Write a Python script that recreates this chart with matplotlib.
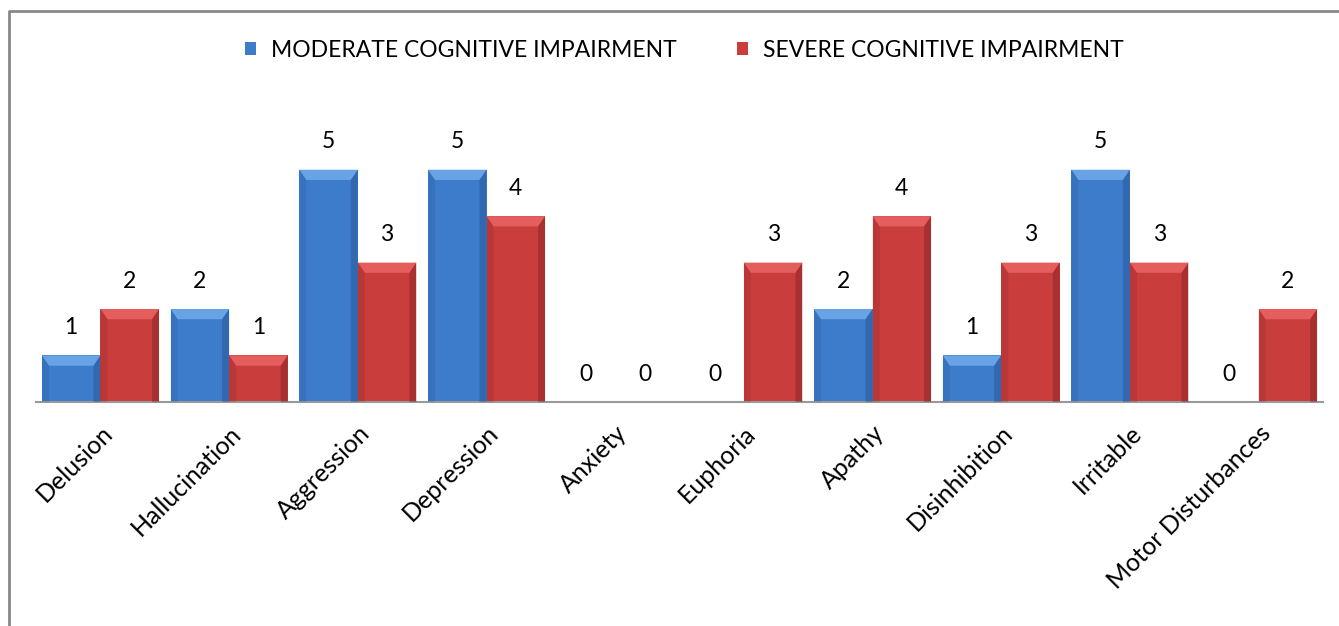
import matplotlib.pyplot as plt
from matplotlib.patches import Polygon
from matplotlib.lines import Line2D

plt.rcParams['font.family'] = ['Lato', 'DejaVu Sans']

categories = ["Delusion", "Hallucination", "Aggression", "Depression", "Anxiety",
              "Euphoria", "Apathy", "Disinhibition", "Irritable", "Motor Disturbances"]
moderate = [1, 2, 5, 5, 0, 0, 2, 1, 5, 0]
severe = [2, 1, 3, 4, 0, 3, 4, 3, 3, 2]

blue = ("#3D7BCB", "#68A3E6", "#23528F")
red = ("#C93D3D", "#E45E5E", "#822222")


def bevel(ax, bars, colors):
    # fake the excel bevel: light top band, darker sides
    base, light, dark = colors
    for b in bars:
        h = b.get_height()
        if h <= 0:
            continue
        x0, w = b.get_x(), b.get_width()
        x1, y1 = x0 + w, h
        dx = w * 0.12
        dy = min(0.22, h / 2)
        ax.add_patch(Polygon([(x0, y1), (x1, y1), (x1 - dx, y1 - dy), (x0 + dx, y1 - dy)],
                             closed=True, color=light, lw=0, zorder=3))
        ax.add_patch(Polygon([(x0, 0), (x0, y1), (x0 + dx, y1 - dy), (x0 + dx, 0)],
                             closed=True, color=dark, alpha=0.2, lw=0, zorder=3))
        ax.add_patch(Polygon([(x1, 0), (x1, y1), (x1 - dx, y1 - dy), (x1 - dx, 0)],
                             closed=True, color=dark, alpha=0.45, lw=0, zorder=3))


fig = plt.figure(figsize=(13.39, 6.26), dpi=100)
ax = fig.add_axes([0.027, 0.358, 0.961, 0.445])

x = list(range(len(categories)))
w = 0.455
b1 = ax.bar([i - w / 2 for i in x], moderate, w, color=blue[0], zorder=2,
            label="MODERATE COGNITIVE IMPAIRMENT")
b2 = ax.bar([i + w / 2 for i in x], severe, w, color=red[0], zorder=2,
            label="SEVERE COGNITIVE IMPAIRMENT")
bevel(ax, b1, blue)
bevel(ax, b2, red)

for bars, vals in ((b1, moderate), (b2, severe)):
    for b, v in zip(bars, vals):
        ax.annotate(str(v), (b.get_x() + b.get_width() / 2, v), xytext=(0, 20),
                    textcoords="offset points", ha="center", va="center", fontsize=16.5)

ax.set_xlim(-0.5, len(categories) - 0.5)
ax.set_ylim(0, 6)
ax.set_yticks([])
for s in ("top", "right", "left"):
    ax.spines[s].set_visible(False)
ax.spines["bottom"].set_color("#999999")
ax.spines["bottom"].set_linewidth(1.5)
ax.set_xticks(x)
ax.set_xticklabels(categories, rotation=45, ha="right", va="top", rotation_mode="anchor",
                   fontsize=18)
ax.tick_params(axis="x", length=0, pad=14)

leg = fig.legend(loc="center", bbox_to_anchor=(0.511, 0.92), ncol=2, frameon=False,
                 fontsize=16.5, handlelength=0.5, handleheight=0.5, handletextpad=0.65,
                 columnspacing=2.6)

# outer frame (only left and top show in the crop)
fx = 8.5 / 1339
fy = 1 - 11 / 626
fig.add_artist(Line2D([fx, fx, 1], [0, fy, fy], color="#888888", lw=2, transform=fig.transFigure))

fig.savefig("out.png", dpi=100)
